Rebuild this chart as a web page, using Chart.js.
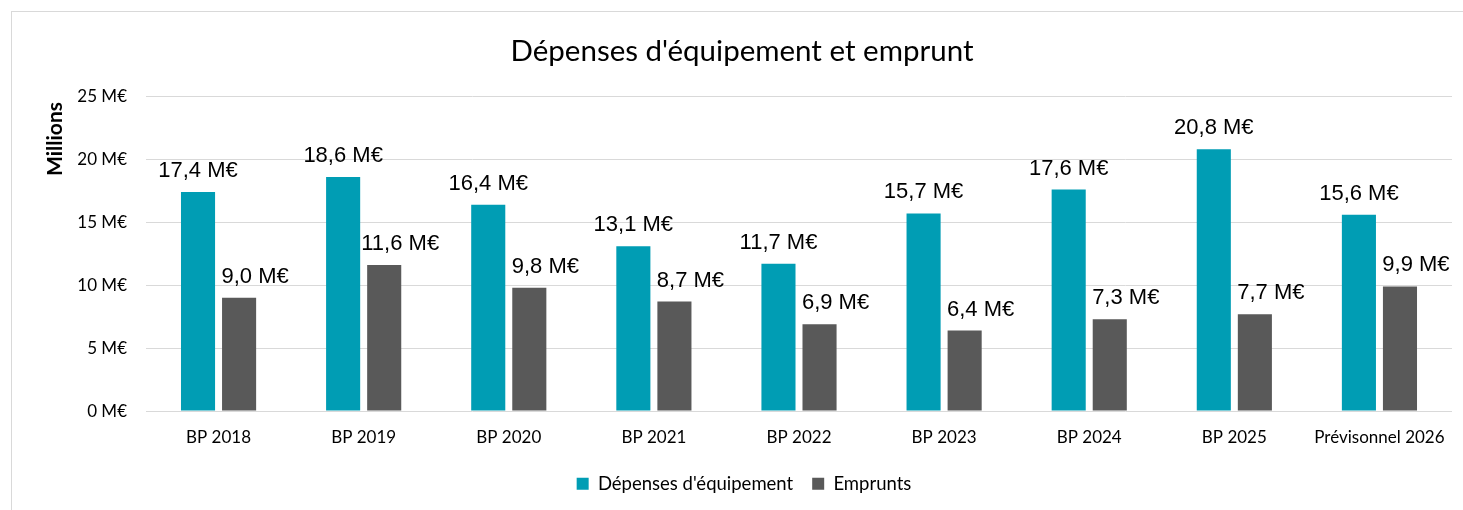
<!DOCTYPE html>
<html>
<head>
<meta charset="utf-8">
<script src="https://cdn.jsdelivr.net/npm/chart.js@4/dist/chart.umd.min.js"></script>
<style>
  html, body { margin: 0; padding: 0; background: #fff; }
  #wrap { position: relative; width: 1463px; height: 510px; }
</style>
</head>
<body>
<div id="wrap"><canvas id="chart" width="1463" height="510"></canvas></div>
<script>
// Data
const categories = ['BP 2018', 'BP 2019', 'BP 2020', 'BP 2021', 'BP 2022', 'BP 2023', 'BP 2024', 'BP 2025', 'Prévisonnel 2026'];
const depenses = [17.4, 18.6, 16.4, 13.1, 11.7, 15.7, 17.6, 20.8, 15.6];
const emprunts = [9.0, 11.6, 9.8, 8.7, 6.9, 6.4, 7.3, 7.7, 9.9];
const seriesNames = ["Dépenses d'équipement", 'Emprunts'];

const FONT = 'Lato, "Open Sans", sans-serif';
// the original nudges the grey labels to the right so they don't touch the teal ones
const labelShift = [0, 16];

// formats 17.4 -> "17,4 M€"
function fmt(v) {
    return v.toFixed(1).replace('.', ',') + ' M€';
}

// value labels above each bar + frame + "Millions" axis title
const extras = {
    id: 'extras',
    afterLayout(chart) {
        // title and legend sit a bit right of centre in the original
        chart.legend.left += 18;
        chart.legend.right += 18;
        chart.titleBlock.left += 16;
        chart.titleBlock.right += 16;
    },
    beforeDraw(chart) {
        const c = chart.ctx;
        c.save();
        c.strokeStyle = '#d9d9d9';
        c.lineWidth = 1;
        c.strokeRect(11.5, 11.5, 1470, 520);
        c.restore();
    },
    afterDatasetsDraw(chart) {
        const c = chart.ctx;
        c.save();
        c.font = '22px "Liberation Sans", Arial, sans-serif';
        c.fillStyle = '#000';
        c.textAlign = 'center';
        c.textBaseline = 'alphabetic';
        chart.data.datasets.forEach(function(ds, i) {
            chart.getDatasetMeta(i).data.forEach(function(bar, j) {
                c.fillText(fmt(ds.data[j]), bar.x + labelShift[i], bar.y - 15);
            });
        });
        // y axis title, sits near the top like in the original
        c.translate(62, 139);
        c.rotate(-Math.PI / 2);
        c.font = 'bold 21px ' + FONT;
        c.fillText('Millions', 0, 0);
        c.restore();
    }
};

new Chart(document.getElementById('chart'), {
    type: 'bar',
    data: {
        labels: categories,
        datasets: [{
            label: seriesNames[0],
            data: depenses,
            backgroundColor: '#009db4',
            categoryPercentage: 0.566,
            barPercentage: 0.83
        }, {
            label: seriesNames[1],
            data: emprunts,
            backgroundColor: '#595959',
            categoryPercentage: 0.566,
            barPercentage: 0.83
        }]
    },
    options: {
        responsive: false,
        animation: false,
        layout: { padding: { left: 0, right: 11, top: 0, bottom: 7 } },
        plugins: {
            title: {
                display: true,
                text: "Dépenses d'équipement et emprunt",
                color: '#000',
                font: { family: FONT, size: 29.5, weight: 'normal' },
                padding: { top: 34, bottom: 27 }
            },
            legend: {
                position: 'bottom',
                labels: {
                    color: '#000',
                    font: { family: FONT, size: 18.5 },
                    boxWidth: 12,
                    boxHeight: 12,
                    padding: 19
                }
            },
            tooltip: { enabled: false }
        },
        scales: {
            x: {
                grid: { display: false },
                border: { display: false },
                ticks: { color: '#000', font: { family: FONT, size: 17 }, padding: 8 }
            },
            y: {
                min: 0,
                max: 25,
                afterFit(scale) { scale.width = 146; },
                grid: { color: '#d9d9d9', lineWidth: 1, drawTicks: false },
                border: { display: false },
                ticks: {
                    stepSize: 5,
                    color: '#000',
                    padding: 19,
                    font: { family: FONT, size: 17 },
                    callback: function(v) { return v + ' M€'; }
                }
            }
        }
    },
    plugins: [extras]
});
</script>
</body>
</html>
